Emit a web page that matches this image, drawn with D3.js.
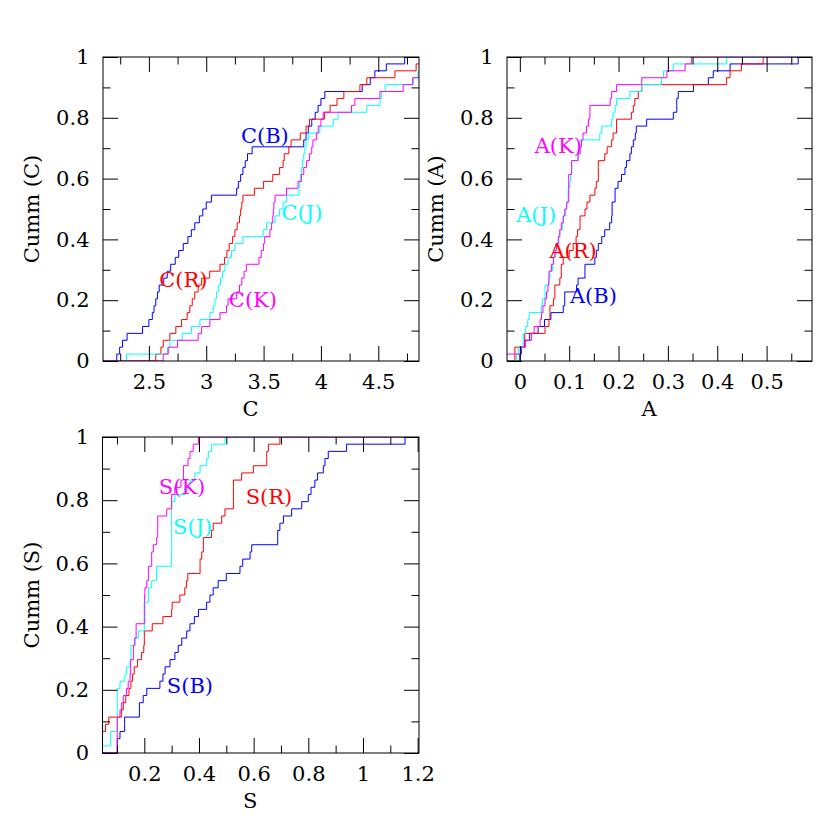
<!DOCTYPE html>
<html lang="en">
<head>
<meta charset="UTF-8">
<title>Cumulative distributions C, A, S</title>
<script src="https://cdn.jsdelivr.net/npm/d3@7"></script>
<style>
  body { margin: 0; background: #fff; }
  text { font-family: "DejaVu Serif", serif; }
</style>
</head>
<body>
<script>
// sorted sample values of each band (B, R, J, K)
var cB = [2.220,2.245,2.270,2.310,2.445,2.500,2.530,2.545,2.560,2.575,2.590,2.630,2.660,2.690,2.730,2.760,2.800,2.840,2.870,2.900,2.940,2.970,3.000,3.045,3.265,3.280,3.300,3.320,3.340,3.360,3.400,3.850,3.870,3.890,3.920,3.950,3.975,4.000,4.034,4.360,4.430,4.470,4.570,4.730];
var cR = [2.560,2.605,2.625,2.683,2.735,2.785,2.834,2.857,2.878,2.900,2.930,2.960,3.030,3.120,3.160,3.180,3.200,3.230,3.250,3.270,3.290,3.300,3.310,3.320,3.420,3.500,3.580,3.640,3.670,3.680,3.720,3.740,3.820,3.870,3.900,4.030,4.080,4.140,4.200,4.340,4.400,4.645,4.830,4.950];
var cJ = [2.305,2.663,2.683,2.790,2.872,2.945,3.032,3.061,3.076,3.090,3.105,3.125,3.142,3.163,3.190,3.220,3.250,3.320,3.497,3.526,3.600,3.640,3.670,3.700,3.810,3.815,3.820,3.830,3.840,3.850,3.860,3.870,3.890,3.990,4.107,4.150,4.400,4.515,4.530,4.560,4.805,4.845,4.950,5.050];
var cK = [2.625,2.669,2.750,2.930,2.960,3.032,3.120,3.177,3.190,3.265,3.290,3.310,3.330,3.350,3.460,3.480,3.500,3.510,3.555,3.570,3.580,3.585,3.590,3.600,3.700,3.800,3.830,3.850,3.875,3.900,3.920,3.930,3.960,3.977,4.000,4.020,4.267,4.296,4.514,4.717,4.800,4.900,5.000,5.100];

var aB = [0.000,0.003,0.010,0.020,0.037,0.050,0.063,0.088,0.091,0.091,0.115,0.118,0.132,0.132,0.152,0.155,0.159,0.166,0.172,0.182,0.186,0.187,0.187,0.193,0.193,0.199,0.206,0.213,0.216,0.223,0.226,0.230,0.234,0.236,0.257,0.311,0.318,0.318,0.321,0.352,0.382,0.392,0.426,0.564];
var aR = [-0.010,-0.010,0.010,0.010,0.051,0.059,0.061,0.061,0.068,0.071,0.071,0.081,0.084,0.084,0.088,0.100,0.108,0.114,0.117,0.122,0.122,0.132,0.136,0.142,0.152,0.155,0.159,0.159,0.159,0.172,0.177,0.186,0.189,0.196,0.196,0.226,0.230,0.233,0.240,0.247,0.419,0.426,0.449,0.493];
var aJ = [-0.007,-0.003,0.007,0.007,0.012,0.016,0.019,0.044,0.046,0.051,0.051,0.058,0.061,0.066,0.068,0.072,0.074,0.079,0.081,0.086,0.088,0.093,0.095,0.098,0.098,0.101,0.103,0.105,0.105,0.118,0.122,0.122,0.162,0.166,0.186,0.189,0.193,0.196,0.223,0.247,0.287,0.291,0.311,0.419];
var aK = [-0.040,0.002,0.011,0.024,0.029,0.041,0.044,0.047,0.051,0.054,0.057,0.059,0.059,0.064,0.068,0.071,0.074,0.078,0.081,0.084,0.088,0.091,0.095,0.099,0.099,0.099,0.099,0.105,0.105,0.118,0.122,0.125,0.128,0.135,0.139,0.142,0.142,0.183,0.186,0.196,0.247,0.298,0.335,0.348];

var sB = [0.101,0.101,0.111,0.128,0.128,0.182,0.182,0.196,0.209,0.257,0.268,0.276,0.294,0.312,0.324,0.337,0.355,0.367,0.383,0.398,0.428,0.440,0.452,0.470,0.500,0.550,0.560,0.587,0.593,0.688,0.688,0.696,0.709,0.739,0.776,0.800,0.810,0.824,0.834,0.855,0.861,0.873,0.940,1.154];
var sR = [0.030,0.040,0.046,0.058,0.070,0.116,0.123,0.132,0.144,0.151,0.157,0.163,0.175,0.190,0.198,0.200,0.200,0.229,0.268,0.300,0.302,0.330,0.348,0.354,0.359,0.404,0.404,0.410,0.416,0.416,0.446,0.452,0.483,0.495,0.526,0.526,0.526,0.526,0.556,0.599,0.648,0.648,0.654,0.696];
var sJ = [0.040,0.077,0.077,0.101,0.101,0.101,0.101,0.101,0.101,0.111,0.129,0.135,0.148,0.151,0.151,0.166,0.178,0.200,0.202,0.202,0.202,0.215,0.215,0.227,0.245,0.245,0.300,0.300,0.300,0.300,0.300,0.300,0.300,0.300,0.300,0.312,0.349,0.367,0.385,0.404,0.428,0.434,0.446,0.495];
var sK = [0.101,0.101,0.101,0.101,0.101,0.111,0.117,0.123,0.135,0.141,0.148,0.150,0.150,0.160,0.160,0.165,0.170,0.170,0.200,0.200,0.200,0.201,0.202,0.209,0.215,0.215,0.227,0.227,0.233,0.245,0.249,0.249,0.249,0.282,0.300,0.300,0.312,0.334,0.343,0.343,0.360,0.367,0.379,0.398];

var bands = ["B", "R", "J", "K"];
var bandColors = ["#0000ff", "#ff0000", "#00ffff", "#ff00ff"];

// curve labels: [x, y] in data units, same order as bands
var cLabelPos = [[3.511, 0.717], [2.800, 0.242], [3.834, 0.464], [3.407, 0.179]];
var aLabelPos = [[0.149, 0.190], [0.108, 0.338], [0.033, 0.458], [0.078, 0.683]];
var sLabelPos = [[0.367, 0.190], [0.656, 0.789], [0.377, 0.694], [0.338, 0.821]];

// ticks
var cTicks = [2.5, 3, 3.5, 4, 4.5];
var cMinor = [2.25, 2.75, 3.25, 3.75, 4.25, 4.75];
var aTicks = [0, 0.1, 0.2, 0.3, 0.4, 0.5];
var aMinor = [0.05, 0.15, 0.25, 0.35, 0.45, 0.55];
var sTicks = [0.2, 0.4, 0.6, 0.8, 1, 1.2];
var sMinor = [0.1, 0.3, 0.5, 0.7, 0.9, 1.1];
var yTicks = [0, 0.2, 0.4, 0.6, 0.8, 1];
var yMinor = [0.1, 0.3, 0.5, 0.7, 0.9];

var panels = [
    {name: "C", box: [103, 57, 419, 361], dom: [2.1, 4.855], ticks: cTicks, minor: cMinor,
     series: [cB, cR, cJ, cK], labels: cLabelPos},
    {name: "A", box: [507, 57, 812, 361], dom: [-0.026, 0.592], ticks: aTicks, minor: aMinor,
     series: [aB, aR, aJ, aK], labels: aLabelPos},
    {name: "S", box: [102.5, 437, 419, 753], dom: [0.047, 1.205], ticks: sTicks, minor: sMinor,
     series: [sB, sR, sJ, sK], labels: sLabelPos}
];

var fs = 21;
var svg = d3.select("body").append("svg")
    .attr("width", 830)
    .attr("height", 830);

panels.forEach(function(p, pi) {
    var x0 = p.box[0], y0 = p.box[1], x1 = p.box[2], y1 = p.box[3];
    var x = d3.scaleLinear().domain(p.dom).range([x0, x1]);
    var y = d3.scaleLinear().domain([0, 1]).range([y1, y0]);
    var g = svg.append("g");

    g.append("clipPath").attr("id", "clip" + pi)
        .append("rect")
        .attr("x", x0).attr("y", y0)
        .attr("width", x1 - x0).attr("height", y1 - y0);

    // cumulative step curves
    var line = d3.line()
        .x(function(d) { return x(d[0]); })
        .y(function(d) { return y(d[1]); })
        .curve(d3.curveStepAfter);

    p.series.forEach(function(vals, si) {
        var n = vals.length;
        var pts = [[Math.min(p.dom[0], vals[0]) - 1, 0]];
        vals.forEach(function(v, i) { pts.push([v, (i + 1) / n]); });
        pts.push([Math.max(p.dom[1], vals[n - 1]) + 1, 1]);
        g.append("path")
            .attr("clip-path", "url(#clip" + pi + ")")
            .attr("d", line(pts))
            .attr("fill", "none")
            .attr("stroke", bandColors[si])
            .attr("stroke-width", 1);
    });

    // axes: ticks drawn inward on all four sides
    function style(ax) {
        ax.select(".domain").remove();
        ax.attr("font-family", "DejaVu Serif").attr("font-size", fs).attr("color", "#000");
    }
    var fmt = d3.format("");
    g.append("g").attr("transform", "translate(0," + y1 + ")")
        .call(d3.axisBottom(x).tickValues(p.ticks).tickSize(-15).tickPadding(13).tickFormat(fmt)).call(style);
    g.append("g").attr("transform", "translate(0," + y1 + ")")
        .call(d3.axisBottom(x).tickValues(p.minor).tickSize(-7.5).tickFormat("")).call(style);
    g.append("g").attr("transform", "translate(0," + y0 + ")")
        .call(d3.axisTop(x).tickValues(p.ticks).tickSize(-15).tickFormat("")).call(style);
    g.append("g").attr("transform", "translate(0," + y0 + ")")
        .call(d3.axisTop(x).tickValues(p.minor).tickSize(-7.5).tickFormat("")).call(style);
    g.append("g").attr("transform", "translate(" + x0 + ",0)")
        .call(d3.axisLeft(y).tickValues(yTicks).tickSize(-15).tickPadding(13.5).tickFormat(fmt)).call(style);
    g.append("g").attr("transform", "translate(" + x0 + ",0)")
        .call(d3.axisLeft(y).tickValues(yMinor).tickSize(-7.5).tickFormat("")).call(style);
    g.append("g").attr("transform", "translate(" + x1 + ",0)")
        .call(d3.axisRight(y).tickValues(yTicks).tickSize(-15).tickFormat("")).call(style);
    g.append("g").attr("transform", "translate(" + x1 + ",0)")
        .call(d3.axisRight(y).tickValues(yMinor).tickSize(-7.5).tickFormat("")).call(style);

    g.append("rect")
        .attr("x", x0).attr("y", y0)
        .attr("width", x1 - x0).attr("height", y1 - y0)
        .attr("fill", "none").attr("stroke", "#000").attr("stroke-width", 1);

    // curve labels
    p.labels.forEach(function(d, si) {
        g.append("text")
            .attr("x", x(d[0])).attr("y", y(d[1]))
            .attr("text-anchor", "middle")
            .attr("font-size", fs)
            .attr("fill", bandColors[si])
            .text(p.name + "(" + bands[si] + ")");
    });

    // axis titles
    g.append("text")
        .attr("x", (x0 + x1) / 2 - 10.5).attr("y", y1 + 55)
        .attr("text-anchor", "middle")
        .attr("font-size", fs)
        .text(p.name);
    g.append("text")
        .attr("transform", "translate(" + (x0 - 64) + "," + ((y0 + y1) / 2) + ") rotate(-90)")
        .attr("text-anchor", "middle")
        .attr("font-size", fs)
        .text("Cumm (" + p.name + ")");
});
</script>
</body>
</html>
